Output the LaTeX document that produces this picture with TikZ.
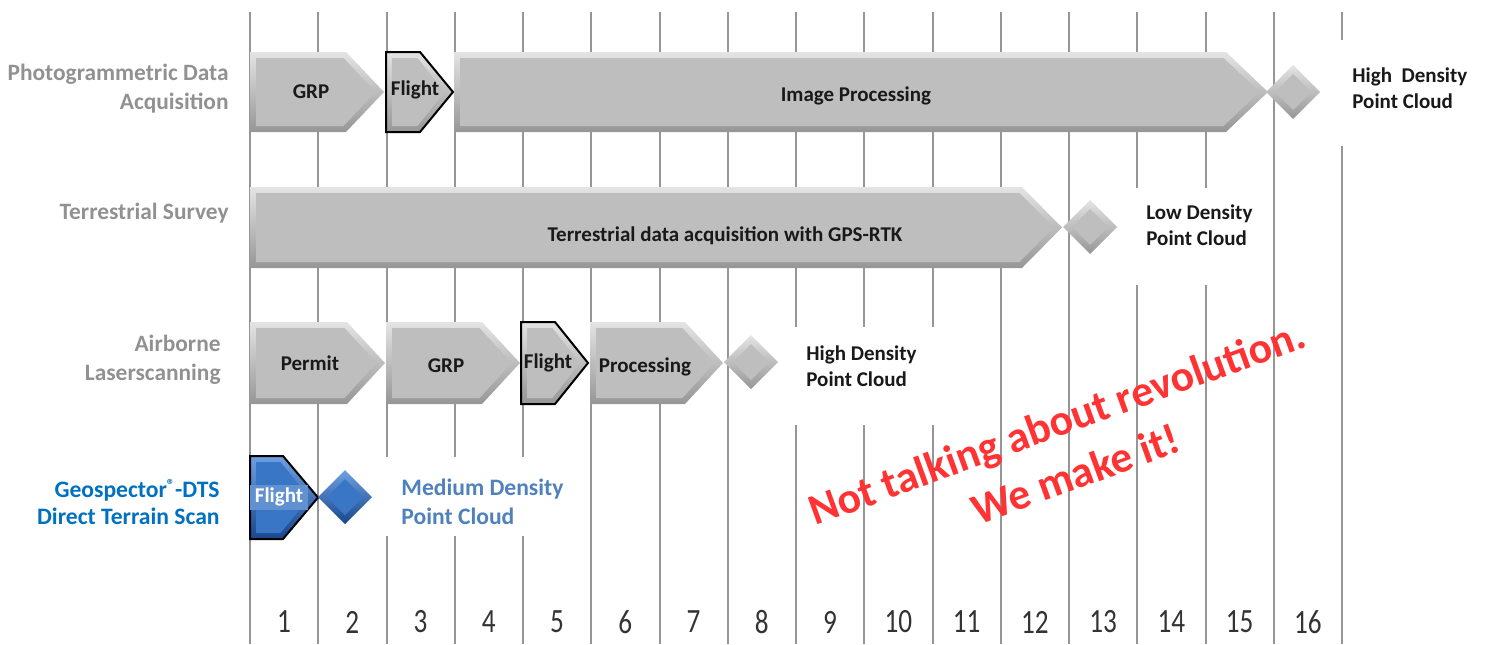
\documentclass[tikz,border=0pt]{standalone}
\usepackage{fontspec}
\setmainfont{Carlito}
\definecolor{greytop}{RGB}{228,228,228}
\definecolor{greybot}{RGB}{150,150,150}
\definecolor{greybase}{RGB}{190,190,190}
\definecolor{bluetop}{RGB}{110,160,225}
\definecolor{bluebot}{RGB}{25,70,140}
\definecolor{bluebase}{RGB}{58,118,198}
\definecolor{rowgrey}{RGB}{145,145,145}
\definecolor{dtsblue}{RGB}{0,112,192}
\definecolor{midblue}{RGB}{79,129,189}
\definecolor{slogan}{RGB}{255,51,51}
\definecolor{gridgrey}{RGB}{150,150,150}
\tikzset{
  gridline/.style={gridgrey, line width=1pt},
  rowname/.style={anchor=east, align=right, inner xsep=0pt, text=rowgrey, font=\fontsize{11.7}{14.5}\selectfont\bfseries},
  result/.style={anchor=west, align=left, inner xsep=0pt, text=black!90, font=\fontsize{10.5}{13}\selectfont\bfseries},
  tasktext/.style={text=black!90, font=\fontsize{10.5}{12}\selectfont\bfseries, inner sep=1pt},
  daynum/.style={text=black!80, font=\fontsize{17}{17}\selectfont, xscale=0.8},
  flightedge/.style={draw=black, line width=1pt, line join=miter}
}
% chevron: [scheme]{left}{body end}{tip}{top}{bottom}
\newcommand{\stage}[6][grey]{%
  \pgfmathsetmacro\midy{(#5+#6)/2}
  \shade[top color=#1top, bottom color=#1bot] (#2,#5) -- (#3,#5) -- (#4,\midy) -- (#3,#6) -- (#2,#6) -- cycle;
  \fill[#1base] (#2+6,#5+6) -- (#3-2.5,#5+6) -- (#4-8.5,\midy) -- (#3-2.5,#6-6) -- (#2+6,#6-6) -- cycle;
}
% diamond: [scheme]{cx}{cy}{r}
\newcommand{\gem}[4][grey]{%
  \shade[top color=#1top, bottom color=#1bot] (#2-#4,#3) -- (#2,#3-#4) -- (#2+#4,#3) -- (#2,#3+#4) -- cycle;
  \fill[#1base] (#2-#4+9,#3) -- (#2,#3-#4+9) -- (#2+#4-9,#3) -- (#2,#3+#4-9) -- cycle;
}
\begin{document}
\begin{tikzpicture}[x=0.5pt, y=-0.5pt]
  \useasboundingbox (0,0) rectangle (1485,644);
  % time grid
  \foreach \i in {0,...,16}
    \draw[gridline] (250+68.25*\i,12) -- (250+68.25*\i,644);
  \fill[white] (1325,40) rectangle (1485,146);
  \fill[white] (1124,188) rectangle (1262,285);
  \fill[white] (785,327) rectangle (940,425);
  \fill[white] (378,457) rectangle (580,536);

  % photogrammetry
  \stage{250}{346}{384}{52}{132}
  \stage{386}{420}{453}{52}{132}
  \draw[flightedge] (386,52) -- (420,52) -- (453,92) -- (420,132) -- (386,132) -- cycle;
  \stage{454}{1226}{1268}{52}{132}
  \gem{1293}{92}{27}
  % terrestrial
  \stage{250}{1022}{1062}{187}{268}
  \gem{1090}{227}{27}
  % airborne
  \stage{250}{347}{385}{322}{404}
  \stage{386}{482}{520}{322}{404}
  \stage{521}{555}{588}{322}{404}
  \draw[flightedge] (521,322) -- (555,322) -- (588,363) -- (555,404) -- (521,404) -- cycle;
  \stage{590}{685}{723}{322}{404}
  \gem{751}{362}{27}
  % DTS
  \stage[blue]{250}{283}{318}{456}{539}
  \draw[flightedge] (250,456) -- (283,456) -- (318,497.5) -- (283,539) -- (250,539) -- cycle;
  \gem[blue]{345}{497}{27}

  % row names
  \node[rowname] (photo) at (229,89) {Photogrammetric Data\\Acquisition};
  \node[rowname] (terr) at (229,213) {Terrestrial Survey};
  \node[rowname] (als) at (221,360) {Airborne\\Laserscanning};
  \node[rowname, text=dtsblue, font=\fontsize{11.8}{13.5}\selectfont\bfseries] (dts) at (220,502) {Geospector\raisebox{0.3em}{\fontsize{8}{8}\selectfont ®}-DTS\\Direct Terrain Scan};

  % task labels
  \node[tasktext] (grpA) at (311,92) {GRP};
  \node[tasktext] (flightA) at (415,90) {Flight};
  \node[tasktext] (imgproc) at (856,96) {Image Processing};
  \node[tasktext] (rtk) at (725,236) {Terrestrial data acquisition with GPS-RTK};
  \node[tasktext] (permit) at (310,363) {Permit};
  \node[tasktext] (grpC) at (446,366) {GRP};
  \node[tasktext] (flightC) at (548,363) {Flight};
  \node[tasktext] (proc) at (645,367) {Processing};
  \node[tasktext, text=white, fill=bluebase!80!white, minimum width=29pt, minimum height=12.5pt] (flightD) at (279,497) {Flight};

  % results
  \node[result] (highA) at (1352,88) {High\ \ Density\\Point Cloud};
  \node[result] (lowB) at (1146,225) {Low Density\\Point Cloud};
  \node[result] (highC) at (806,366) {High Density\\Point Cloud};
  \node[result, text=midblue, font=\fontsize{11.8}{14.5}\selectfont\bfseries] (medD) at (401,502) {Medium Density\\Point Cloud};

  % slogan
  \node[rotate=20, align=center, inner sep=0pt, text=slogan, font=\fontsize{21.8}{27.7}\selectfont\bfseries] (slogan) at (1066,448) {Not talking about revolution.\\We make it!};

  % days
  \foreach \i in {1,...,16}
    \node[daynum] (d\i) at (250+68.25*\i-34.125,622) {\i};
\end{tikzpicture}
\end{document}
